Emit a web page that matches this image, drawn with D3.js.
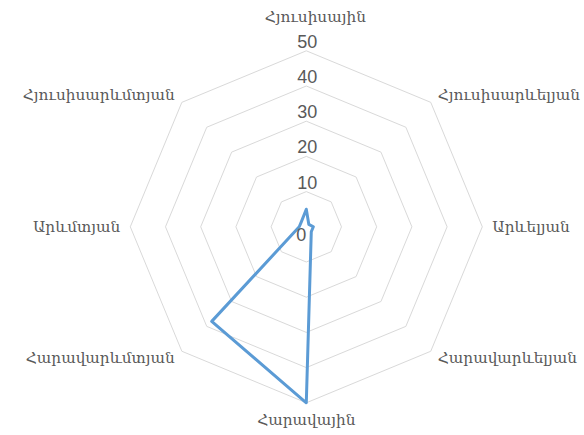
<!DOCTYPE html>
<html><head><meta charset="utf-8">
<script src="https://cdn.jsdelivr.net/npm/d3@7"></script>
<style>
html,body{margin:0;padding:0;background:#fff;}
svg{display:block;}
</style></head>
<body>
<svg id="chart" width="584" height="435"></svg>
<script>
const categories = ["Հյուսիսային","Հյուսիսարևելյան","Արևելյան","Հարավարևելյան","Հարավային","Հարավարևմտյան","Արևմտյան","Հյուսիսարևմտյան"];
const values = [5, 1, 2, 2, 50, 38, 2, 2];
const tickValues = [0, 10, 20, 30, 40, 50];

const W = 584, H = 435;
const cx = 306.3, cy = 226.8, R = 176;
const svg = d3.select("#chart");
const g = svg.append("g").attr("transform", `translate(${cx},${cy})`);

const r = d3.scaleLinear().domain([0, 50]).range([0, R]);
const ang = d3.scaleLinear().domain([0, categories.length]).range([0, 2 * Math.PI]);

const ringLine = d3.lineRadial().angle((d, i) => ang(i)).curve(d3.curveLinearClosed);

// grid rings
g.selectAll("path.ring").data(tickValues.filter(t => t > 0)).join("path")
  .attr("class", "ring")
  .attr("d", t => ringLine.radius(() => r(t))(categories))
  .attr("fill", "none").attr("stroke", "#d9d9d9").attr("stroke-width", 1);

// data line
const dataLine = d3.lineRadial().angle((d, i) => ang(i)).radius(d => r(d)).curve(d3.curveLinearClosed);
g.append("path").attr("d", dataLine(values))
  .attr("fill", "none").attr("stroke", "#5b9bd5").attr("stroke-width", 3)
  .attr("stroke-linejoin", "round");

// tick labels
g.selectAll("text.tick").data(tickValues).join("text")
  .attr("class", "tick")
  .attr("x", t => t === 0 ? -5 : 1)
  .attr("y", t => t === 0 ? 8 : -r(t) - 9)
  .attr("text-anchor", "middle").attr("dominant-baseline", "central")
  .attr("font-family", "'Liberation Sans', Arial, sans-serif").attr("font-size", 18)
  .attr("fill", "#595959")
  .text(t => t);

// category labels
const labPad = 10;
g.selectAll("text.cat").data(categories).join("text")
  .attr("class", "cat")
  .each(function(d, i) {
    const a = ang(i);
    const s = Math.sin(a), c = Math.cos(a);
    let x = s * (R + labPad), y = -c * (R + labPad);
    let anchor = Math.abs(s) < 0.01 ? "middle" : (s > 0 ? "start" : "end");
    if (i === 0) { x = 9; y = -R - 34; }
    if (i === 4) { y = R + 17; }
    d3.select(this).attr("x", x).attr("y", y).attr("text-anchor", anchor);
  })
  .attr("dominant-baseline", "central")
  .attr("font-family", "'DejaVu Serif', serif").attr("font-size", 15.3)
  .attr("fill", "#595959")
  .text(d => d);
</script>
</body></html>
